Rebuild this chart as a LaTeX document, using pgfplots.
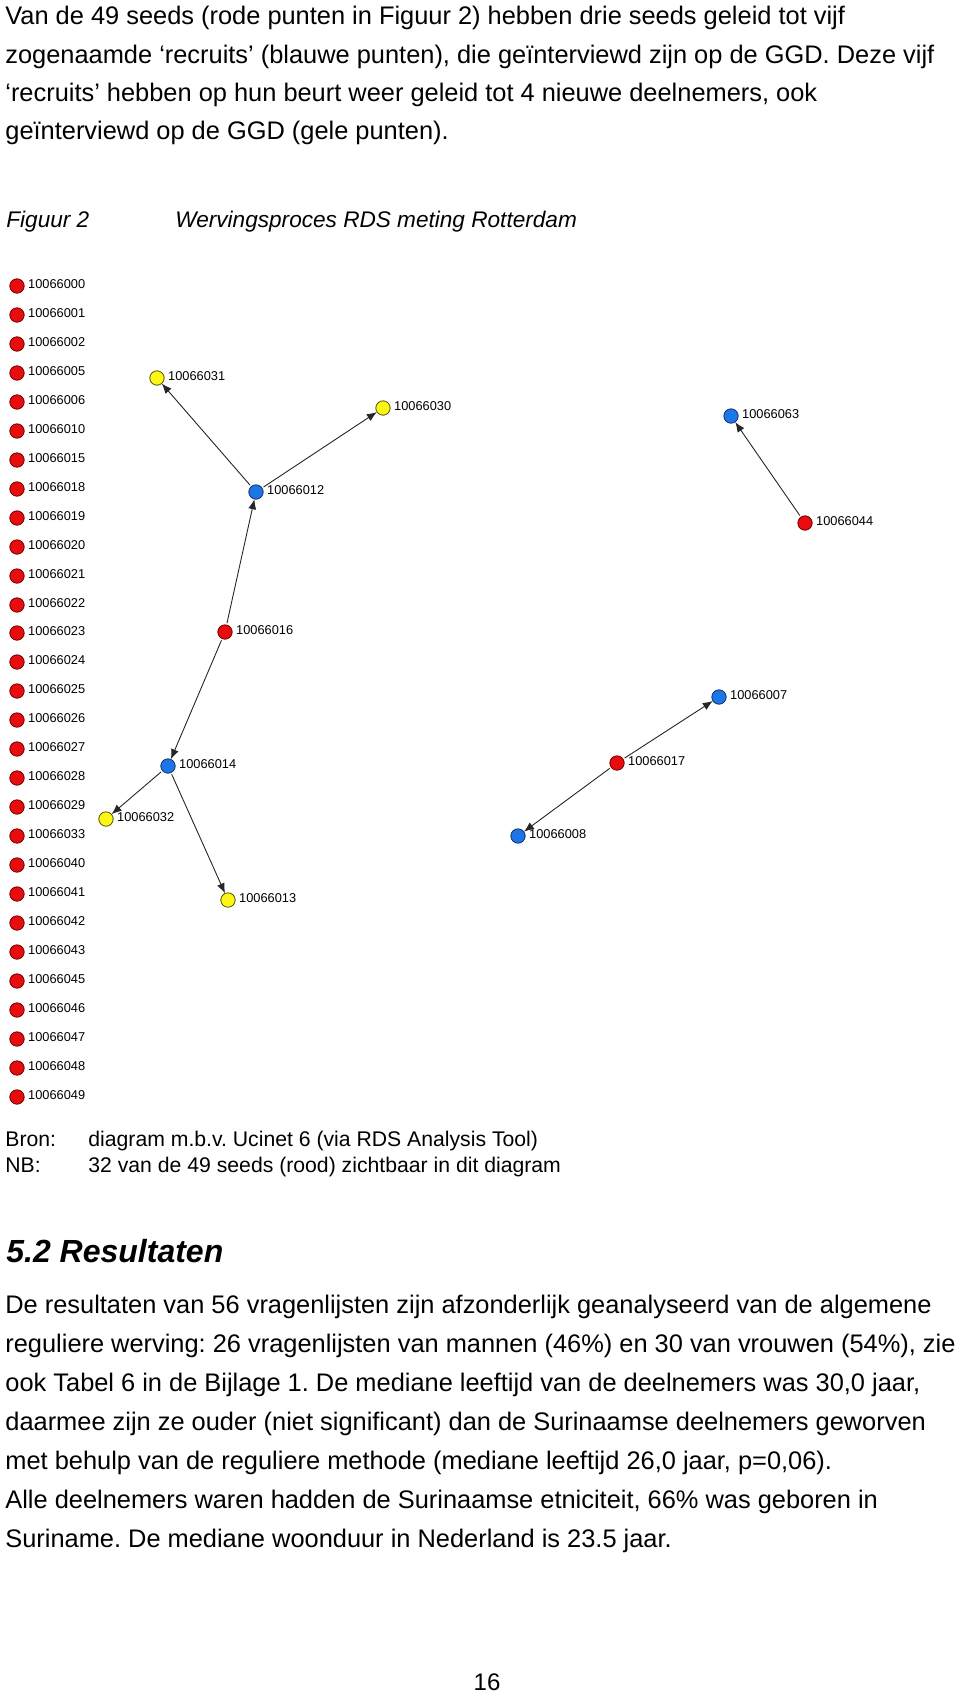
\documentclass[border=0pt]{standalone}
\usepackage{fontspec}
\setmainfont{Liberation Sans}
\usepackage{pgfplots}
\pgfplotsset{compat=1.18}
\usepackage{pgfplotstable}
\usetikzlibrary{arrows.meta}
\definecolor{nred}{RGB}{232,12,14}
\definecolor{nredd}{RGB}{105,0,0}
\definecolor{nblue}{RGB}{28,118,232}
\definecolor{nblued}{RGB}{20,45,100}
\definecolor{nyel}{RGB}{252,246,20}
\definecolor{nyeld}{RGB}{80,80,0}
\newcommand\bodyfont{\fontsize{12.7}{15}\selectfont}
\newcommand\capfont{\fontsize{11.3}{13}\selectfont\itshape}
\newcommand\srcfont{\fontsize{10.6}{12}\selectfont}
\newcommand\headfont{\fontsize{16}{18}\selectfont\bfseries\itshape}
\tikzset{txt/.style={anchor=base west, inner sep=0pt}}
\frenchspacing

\pgfplotstableread{
x y label
17 286 10066000
17 315 10066001
17 344 10066002
17 373 10066005
17 402 10066006
17 431 10066010
17 460 10066015
17 489 10066018
17 518 10066019
17 547 10066020
17 576 10066021
17 605 10066022
17 633 10066023
17 662 10066024
17 691 10066025
17 720 10066026
17 749 10066027
17 778 10066028
17 807 10066029
17 836 10066033
17 865 10066040
17 894 10066041
17 923 10066042
17 952 10066043
17 981 10066045
17 1010 10066046
17 1039 10066047
17 1068 10066048
17 1097 10066049
225 632 10066016
617 763 10066017
805 523 10066044
}\reds

\pgfplotstableread{
x y label
256 492 10066012
168 766 10066014
731 416 10066063
719 697 10066007
518 836 10066008
}\blues

\pgfplotstableread{
x y label
157 378 10066031
383 408 10066030
106 819 10066032
228 900 10066013
}\yellows

\begin{document}
\begin{tikzpicture}
\useasboundingbox (0,0) rectangle (480pt,846pt);
\begin{axis}[at={(0,0)}, anchor=south west, scale only axis,
  width=480pt, height=846pt, xmin=0, xmax=960, ymin=0, ymax=1692,
  y dir=reverse, hide axis, clip=false,
  edge/.style={black!85, line width=0.45pt, -{Latex[length=5pt,width=4pt]},
    shorten >=3.7pt, shorten <=4.5pt, forget plot},
  dots/.style={only marks, mark=*, mark size=3.6pt,
    point meta=explicit symbolic, nodes near coords,
    nodes near coords style={anchor=base west, xshift=5.4pt, yshift=-1pt,
      inner sep=0pt, font=\fontsize{6.4}{7}\selectfont, text=black}}
]
% edges
\addplot[edge] coordinates {(225,632) (256,492)};
\addplot[edge] coordinates {(256,492) (157,378)};
\addplot[edge] coordinates {(256,492) (383,408)};
\addplot[edge] coordinates {(225,632) (168,766)};
\addplot[edge] coordinates {(168,766) (106,819)};
\addplot[edge] coordinates {(168,766) (228,900)};
\addplot[edge] coordinates {(805,523) (731,416)};
\addplot[edge] coordinates {(617,763) (719,697)};
\addplot[edge] coordinates {(617,763) (518,836)};
% nodes
\addplot[dots, mark options={fill=nred, draw=nredd, line width=0.4pt}] table[x=x, y=y, meta=label] {\reds};
\addplot[dots, mark options={fill=nblue, draw=nblued, line width=0.4pt}] table[x=x, y=y, meta=label] {\blues};
\addplot[dots, mark options={fill=nyel, draw=nyeld, line width=0.4pt}] table[x=x, y=y, meta=label] {\yellows};

% text
\node[txt, font=\bodyfont] at (axis cs:5,24) {Van de 49 seeds (rode punten in Figuur 2) hebben drie seeds geleid tot vijf};
\node[txt, font=\bodyfont] at (axis cs:5,63) {zogenaamde ‘recruits’ (blauwe punten), die geïnterviewd zijn op de GGD. Deze vijf};
\node[txt, font=\bodyfont] at (axis cs:5,101) {‘recruits’ hebben op hun beurt weer geleid tot 4 nieuwe deelnemers, ook};
\node[txt, font=\bodyfont] at (axis cs:5,139) {geïnterviewd op de GGD (gele punten).};

\node[txt, font=\capfont] at (axis cs:6,227) {Figuur 2};
\node[txt, font=\capfont] at (axis cs:175,227) {Wervingsproces RDS meting Rotterdam};

\node[txt, font=\srcfont] at (axis cs:5,1146) {Bron:};
\node[txt, font=\srcfont] at (axis cs:88,1146) {diagram m.b.v. Ucinet 6 (via RDS Analysis Tool)};
\node[txt, font=\srcfont] at (axis cs:5,1172) {NB:};
\node[txt, font=\srcfont] at (axis cs:88,1172) {32 van de 49 seeds (rood) zichtbaar in dit diagram};

\node[txt, font=\headfont] at (axis cs:6,1262) {5.2 Resultaten};

\node[txt, font=\bodyfont] at (axis cs:5,1313) {De resultaten van 56 vragenlijsten zijn afzonderlijk geanalyseerd van de algemene};
\node[txt, font=\bodyfont] at (axis cs:5,1352) {reguliere werving: 26 vragenlijsten van mannen (46\%) en 30 van vrouwen (54\%), zie};
\node[txt, font=\bodyfont] at (axis cs:5,1391) {ook Tabel 6 in de Bijlage 1. De mediane leeftijd van de deelnemers was 30,0 jaar,};
\node[txt, font=\bodyfont] at (axis cs:5,1430) {daarmee zijn ze ouder (niet significant) dan de Surinaamse deelnemers geworven};
\node[txt, font=\bodyfont] at (axis cs:5,1469) {met behulp van de reguliere methode (mediane leeftijd 26,0 jaar, p=0,06).};
\node[txt, font=\bodyfont] at (axis cs:5,1508) {Alle deelnemers waren hadden de Surinaamse etniciteit, 66\% was geboren in};
\node[txt, font=\bodyfont] at (axis cs:5,1547) {Suriname. De mediane woonduur in Nederland is 23.5 jaar.};

\node[anchor=base, inner sep=0pt, font=\fontsize{12}{14}\selectfont] at (axis cs:487,1690) {16};
\end{axis}
\end{tikzpicture}
\end{document}
